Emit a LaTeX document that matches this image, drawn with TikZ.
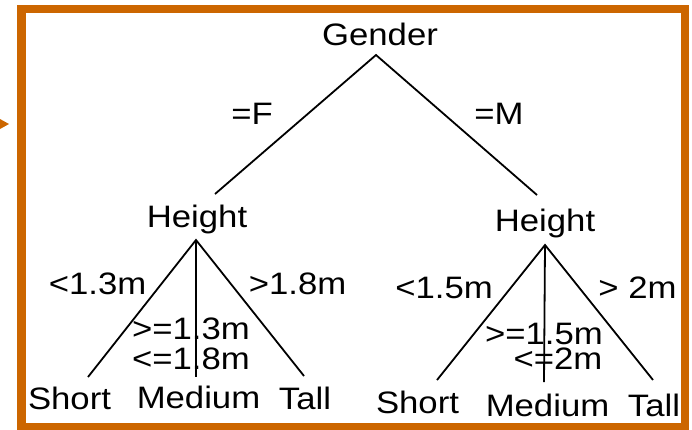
\documentclass[tikz,border=0pt]{standalone}
\usepackage{fontspec}
\setmainfont{Liberation Sans}[FakeStretch=1.12]
\definecolor{frameorange}{RGB}{204,102,0}
\begin{document}
\begin{tikzpicture}[x=1pt,y=-1pt,
  lbl/.style={inner sep=0pt,anchor=base,font=\fontsize{31}{31}\selectfont},
  edge/.style={line width=1.8pt,black}]
\useasboundingbox (0,0) rectangle (692,429);
% frame
\draw[frameorange,line width=8.4pt] (21.5,9) rectangle (685,427);
\fill[frameorange] (0,119) -- (9,124) -- (0,129) -- cycle;
% labels
\node[lbl] (gender) at (380,45) {Gender};
\node[lbl] (eqF) at (252,124) {=F};
\node[lbl] (eqM) at (499,124) {=M};
\node[lbl] (hL) at (197,227) {Height};
\node[lbl] (hR) at (545,231) {Height};
\node[lbl] (l13) at (97.5,294) {<1.3m};
\node[lbl] (g18) at (297.5,294) {>1.8m};
\node[lbl] (ge13) at (191,339) {>=1.3m};
\node[lbl] (le18) at (191,369) {<=1.8m};
\node[lbl] (shortL) at (69.5,409) {Short};
\node[lbl] (medL) at (198.5,408) {Medium};
\node[lbl] (tallL) at (305,409) {Tall};
\node[lbl] (l15) at (444,298) {<1.5m};
\node[lbl] (g2) at (637.5,298) {> 2m};
\node[lbl] (ge15) at (544,344) {>=1.5m};
\node[lbl] (le2) at (558,369) {<=2m};
\node[lbl] (shortR) at (417.5,413) {Short};
\node[lbl] (medR) at (547.5,416) {Medium};
\node[lbl] (tallR) at (654,416) {Tall};
% connector end points
\coordinate (gA) at (376,55);
\coordinate (hLtop) at (215,194);
\coordinate (hRtop) at (537,195);
\coordinate (hLA) at (196,240);
\coordinate (shortLtop) at (88,377);
\coordinate (medLtop) at (196,377);
\coordinate (tallLtop) at (304,376);
\coordinate (hRA) at (545,245);
\coordinate (shortRtop) at (437,380);
\coordinate (medRtop) at (544,382);
\coordinate (tallRtop) at (653,380);
% connectors
\draw[edge] (hLtop) -- (gA) -- (hRtop);
\draw[edge] (shortLtop) -- (hLA) -- (tallLtop);
\draw[edge] (hLA) -- (medLtop);
\draw[edge] (shortRtop) -- (hRA) -- (tallRtop);
\draw[edge] (hRA) -- (medRtop);
\end{tikzpicture}
\end{document}
